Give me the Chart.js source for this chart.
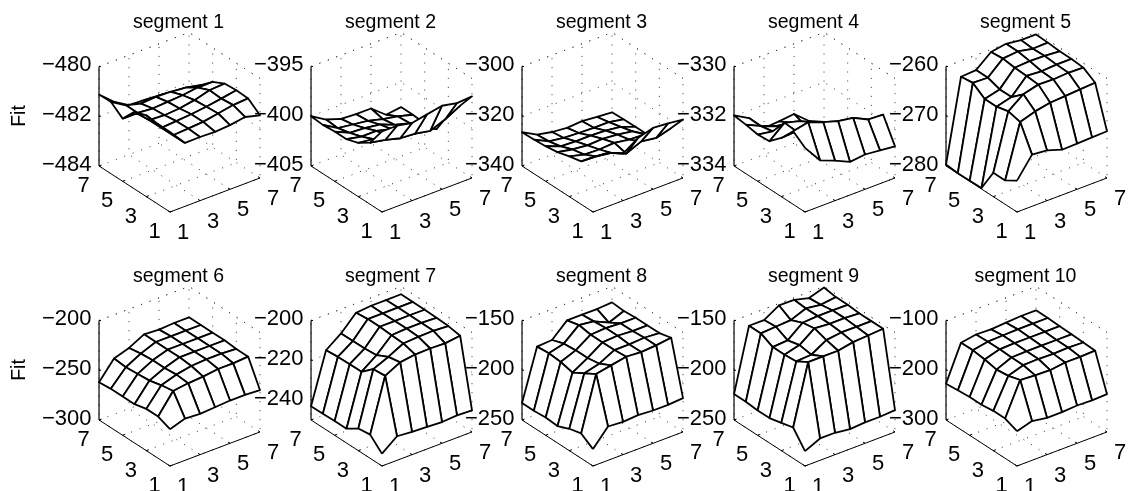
<!DOCTYPE html>
<html>
<head>
<meta charset="utf-8">
<title>Fit per segment</title>
<script src="https://cdn.jsdelivr.net/npm/chart.js@4"></script>
<style>
	html, body { margin: 0; padding: 0; background: #fff; overflow: hidden; }
	#page { position: relative; width: 1132px; height: 491px; overflow: hidden; }
	canvas { position: absolute; }
</style>
</head>
<body>
<div id="page"></div>
<script>
var titles = ['segment 1', 'segment 2', 'segment 3', 'segment 4', 'segment 5', 'segment 6', 'segment 7', 'segment 8', 'segment 9', 'segment 10'];
var gridTicks = [1, 3, 5, 7];

var zLimits = [[-484, -480], [-405, -395], [-340, -300], [-334, -330], [-280, -260], [-300, -200], [-250, -200], [-250, -150], [-250, -150], [-300, -100]];
var zTicks = [[-484, -482, -480], [-405, -400, -395], [-340, -320, -300], [-334, -332, -330], [-280, -270, -260], [-300, -250, -200], [-240, -220, -200], [-250, -200, -150], [-250, -200, -150], [-300, -200, -100]];

// rows run along the left floor axis (1..7), columns along the right floor axis (1..7)
var seg1 = [
	[-480.78, -481.45, -481.44, -481.46, -481.42, -481.32, -481.48],
	[-480.78, -481.45, -481.41, -481.37, -481.26, -481.15, -481.11],
	[-480.73, -481.46, -481.42, -481.37, -481.30, -481.20, -481.09],
	[-480.90, -481.46, -481.49, -481.45, -481.34, -481.17, -481.13],
	[-481.48, -481.48, -481.53, -481.49, -481.45, -481.37, -481.37],
	[-481.11, -481.48, -481.64, -481.60, -481.62, -481.68, -481.81],
	[-481.13, -481.65, -482.01, -482.04, -482.07, -482.16, -482.26]
];
var seg2 = [
	[-396.9, -396.9, -397.2, -396.9, -396.6, -396.9, -396.8],
	[-398.8, -399.1, -399.5, -399.6, -399.9, -399.3, -398.5],
	[-399.6, -399.8, -400.1, -400.3, -400.5, -400.4, -400.2],
	[-400.0, -400.3, -400.3, -400.7, -401.1, -401.7, -402.4],
	[-400.0, -400.7, -400.8, -401.0, -401.6, -402.0, -402.6],
	[-400.1, -401.0, -401.2, -401.4, -401.8, -402.1, -402.5],
	[-400.0, -400.9, -401.4, -401.5, -401.5, -402.7, -402.5]
];
var seg3 = [
	[-317.9, -318.5, -321.1, -317.1, -315.3, -315.8, -316.5],
	[-322.7, -323.0, -323.9, -326.4, -323.8, -324.7, -323.0],
	[-323.8, -325.4, -325.6, -325.2, -326.2, -326.4, -328.1],
	[-325.2, -326.4, -327.0, -326.7, -327.3, -328.2, -331.8],
	[-325.9, -328.2, -328.5, -328.5, -328.7, -329.5, -331.8],
	[-326.3, -329.3, -330.2, -330.5, -330.7, -330.7, -331.9],
	[-326.4, -329.7, -330.9, -331.5, -331.1, -331.7, -332.1]
];
var seg4 = [
	[-331.42, -332.15, -332.39, -332.67, -332.60, -332.66, -332.73],
	[-331.06, -330.93, -331.15, -331.34, -331.44, -331.73, -331.76],
	[-331.64, -331.60, -331.46, -332.05, -332.26, -332.52, -332.66],
	[-332.08, -331.57, -331.73, -332.30, -332.66, -332.93, -333.19],
	[-332.12, -332.22, -332.31, -332.40, -332.97, -333.19, -333.46],
	[-332.03, -332.32, -332.55, -332.64, -333.01, -333.33, -333.60],
	[-331.97, -332.30, -332.93, -332.89, -332.82, -333.33, -333.60]
];
var seg5 = [
	[-273.7, -269.6, -269.9, -270.9, -270.8, -270.7, -270.6],
	[-275.2, -264.6, -263.6, -263.0, -262.8, -262.6, -262.4],
	[-275.2, -264.0, -261.7, -260.9, -261.0, -260.8, -260.9],
	[-279.8, -264.6, -263.8, -260.7, -260.9, -260.7, -260.7],
	[-279.9, -264.6, -263.8, -260.6, -260.4, -260.5, -260.7],
	[-279.9, -262.9, -263.0, -260.3, -260.0, -260.6, -260.5],
	[-279.7, -263.2, -263.0, -260.5, -260.0, -260.4, -260.4]
];
var seg6 = [
	[-263, -258, -259, -258, -257, -257, -258],
	[-258, -238, -236, -235, -233, -233, -232],
	[-258, -240, -235, -232, -231, -231, -232],
	[-261, -243, -236, -231, -231, -231, -231],
	[-261, -244, -236, -231, -231, -231, -231],
	[-261, -245, -237, -231, -231, -231, -231],
	[-262, -244, -239, -231, -232, -231, -231]
];
var seg7 = [
	[-243.8, -237.9, -238.6, -238.9, -239.3, -238.8, -239.1],
	[-238.1, -211.4, -207.5, -206.4, -206.2, -206.5, -205.5],
	[-238.9, -211.9, -208.6, -204.7, -204.2, -204.0, -204.5],
	[-242.8, -217.1, -211.6, -204.4, -203.9, -203.9, -204.2],
	[-242.8, -217.1, -212.1, -204.0, -204.0, -203.9, -204.0],
	[-243.0, -217.3, -212.2, -204.0, -204.0, -203.9, -203.9],
	[-243.1, -217.8, -212.2, -204.7, -204.0, -204.0, -203.9]
];
var seg8 = [
	[-233, -216, -217, -216, -217, -217, -216],
	[-225, -171, -168, -165, -166, -165, -163],
	[-228, -178, -174, -166, -166, -165, -166],
	[-233, -185, -176, -166, -165, -166, -166],
	[-232, -182, -176, -166, -165, -166, -166],
	[-233, -181, -177, -164, -166, -173, -167],
	[-233, -182, -181, -167, -167, -167, -166]
];
var seg9 = [
	[-235, -228, -228, -230, -229, -229, -228],
	[-219, -159, -159, -159, -156, -155, -154],
	[-222, -166, -165, -156, -154, -154, -154],
	[-225, -167, -163, -152, -153, -153, -154],
	[-225, -167, -166, -154, -153, -153, -153],
	[-224, -161, -160, -159, -153, -155, -153],
	[-224, -161, -161, -152, -152, -156, -151]
];
var seg10 = [
	[-230, -221, -226, -226, -224, -225, -224],
	[-220, -154, -156, -157, -153, -153, -152],
	[-220, -161, -151, -150, -151, -150, -151],
	[-223, -164, -151, -150, -150, -150, -150],
	[-223, -159, -150, -149, -149, -149, -149],
	[-225, -156, -150, -149, -148, -148, -148],
	[-227, -156, -151, -152, -150, -148, -148]
];
var segments = [seg1, seg2, seg3, seg4, seg5, seg6, seg7, seg8, seg9, seg10];

// page position of each panel's front floor corner
var panelLeft = [170, 382, 593, 805, 1017];
var rowTop = [0, 254];
var canvasW = 300, canvasH = 245;
var frontX = 170, frontY = 212;

// fixed view: one grid step on each floor axis, and the height of the z box
var stepRight = {x: 15, y: 5.67};
var stepLeft = {x: -11.83, y: 7.67};
var boxHeight = 99.5;

function project(col, row, z, lim) {
	var a = col - 1, b = row - 1;
	return {
		x: a * stepRight.x + b * stepLeft.x,
		y: a * stepRight.y + b * stepLeft.y + (z - lim[0]) / (lim[1] - lim[0]) * boxHeight
	};
}

function lineSet(points, width, dash, color) {
	return {
		data: points,
		showLine: true,
		fill: false,
		borderColor: color || '#000',
		borderWidth: width,
		borderDash: dash || [],
		pointRadius: 0,
		tension: 0,
		clip: false
	};
}

function meshSets(values, lim) {
	// nearest quads first, the first dataset ends up on top
	var sets = [];
	var order = [];
	for (var r = 0; r < 6; r++) {
		for (var c = 0; c < 6; c++) order.push([r, c]);
	}
	order.sort(function (p, q) { return (p[0] + p[1]) - (q[0] + q[1]); });
	order.forEach(function (cell) {
		var r = cell[0], c = cell[1];
		var set = lineSet([
			project(c + 1, r + 1, values[r][c], lim),
			project(c + 2, r + 1, values[r][c + 1], lim),
			project(c + 2, r + 2, values[r + 1][c + 1], lim),
			project(c + 1, r + 2, values[r + 1][c], lim),
			project(c + 1, r + 1, values[r][c], lim)
		], 1.8);
		set.fill = 'shape';
		set.backgroundColor = '#fff';
		set.borderJoinStyle = 'round';
		sets.push(set);
	});
	return sets;
}

function frameSets(ticks, lim) {
	var sets = [];
	var dots = [1, 8];
	var dotColor = '#333';
	var low = lim[0], high = lim[1];

	// solid axes
	sets.push(lineSet([project(1, 7, low, lim), project(1, 7, high, lim)], 1.2));
	sets.push(lineSet([project(1, 7, low, lim), project(1, 1, low, lim), project(7, 1, low, lim)], 1));
	ticks.forEach(function (t) {
		var p = project(1, 7, t, lim);
		sets.push(lineSet([p, {x: p.x + 2, y: p.y}], 1));
	});
	gridTicks.forEach(function (t) {
		sets.push(lineSet([project(1, t, low, lim), project(1.17, t, low, lim)], 1));
		sets.push(lineSet([project(t, 1, low, lim), project(t, 1.17, low, lim)], 1));
	});

	// dotted floor and back walls, the back corner only once
	gridTicks.forEach(function (t) {
		sets.push(lineSet([project(t, 1, low, lim), project(t, 7, low, lim), project(t, 7, high, lim)], 1, dots, dotColor));
		if (t !== 7) {
			sets.push(lineSet([project(1, t, low, lim), project(7, t, low, lim), project(7, t, high, lim)], 1, dots, dotColor));
		} else {
			sets.push(lineSet([project(1, 7, low, lim), project(7, 7, low, lim)], 1, dots, dotColor));
		}
	});
	ticks.concat([high]).forEach(function (t) {
		if (t === low) return;
		sets.push(lineSet([project(1, 7, t, lim), project(7, 7, t, lim), project(7, 1, t, lim)], 1, dots, dotColor));
	});
	return sets;
}

// py is the vertical middle of the digits
function putText(ctx, text, px, py, size, align, turned) {
	ctx.save();
	ctx.translate(px, py);
	if (turned) ctx.rotate(-Math.PI / 2);
	ctx.font = size + 'px "Liberation Sans", Arial, sans-serif';
	ctx.fillStyle = '#000';
	ctx.textAlign = align;
	ctx.textBaseline = 'alphabetic';
	ctx.fillText(text, 0, size * 0.358);
	ctx.restore();
}

function panelLabels(index) {
	return {
		id: 'panelLabels',
		afterDraw: function (chart) {
			var ctx = chart.ctx;
			var sx = chart.scales.x, sy = chart.scales.y;
			var lim = zLimits[index];

			function at(point) {
				return {x: sx.getPixelForValue(point.x), y: sy.getPixelForValue(point.y)};
			}

			var bottom = at(project(1, 7, lim[0], lim));
			var top = {x: bottom.x, y: bottom.y - boxHeight};
			var front = at(project(1, 1, lim[0], lim));
			putText(ctx, titles[index], front.x + 8.5, top.y - 45.8, 19.5, 'center');

			zTicks[index].forEach(function (t) {
				var p = at(project(1, 7, t, lim));
				putText(ctx, '\u2212' + Math.abs(t), p.x - 7.5, p.y - 3.3, 22, 'right');
			});
			gridTicks.forEach(function (t) {
				var left = at(project(1, t, lim[0], lim));
				var right = at(project(t, 1, lim[0], lim));
				putText(ctx, String(t), left.x - 15.5, left.y + 18, 22, 'center');
				putText(ctx, String(t), right.x + 13, right.y + 19, 22, 'center');
			});
			if (index % 5 === 0) {
				putText(ctx, 'Fit', 18, top.y + 49.5, 19.5, 'center', true);
			}
		}
	};
}

var page = document.getElementById('page');

segments.forEach(function (values, index) {
	var canvas = document.createElement('canvas');
	canvas.width = canvasW;
	canvas.height = canvasH;
	canvas.style.left = (panelLeft[index % 5] - frontX) + 'px';
	canvas.style.top = rowTop[Math.floor(index / 5)] + 'px';
	canvas.style.width = canvasW + 'px';
	canvas.style.height = canvasH + 'px';
	page.appendChild(canvas);

	new Chart(canvas, {
		type: 'scatter',
		data: {
			datasets: meshSets(values, zLimits[index]).concat(frameSets(zTicks[index], zLimits[index]))
		},
		options: {
			responsive: false,
			animation: false,
			devicePixelRatio: 1,
			events: [],
			layout: {padding: 0},
			plugins: {
				legend: {display: false},
				tooltip: {enabled: false},
				title: {display: false}
			},
			scales: {
				x: {type: 'linear', display: false, min: -frontX, max: canvasW - frontX},
				y: {type: 'linear', display: false, min: frontY - canvasH, max: frontY}
			}
		},
		plugins: [panelLabels(index)]
	});
});
</script>
</body>
</html>
